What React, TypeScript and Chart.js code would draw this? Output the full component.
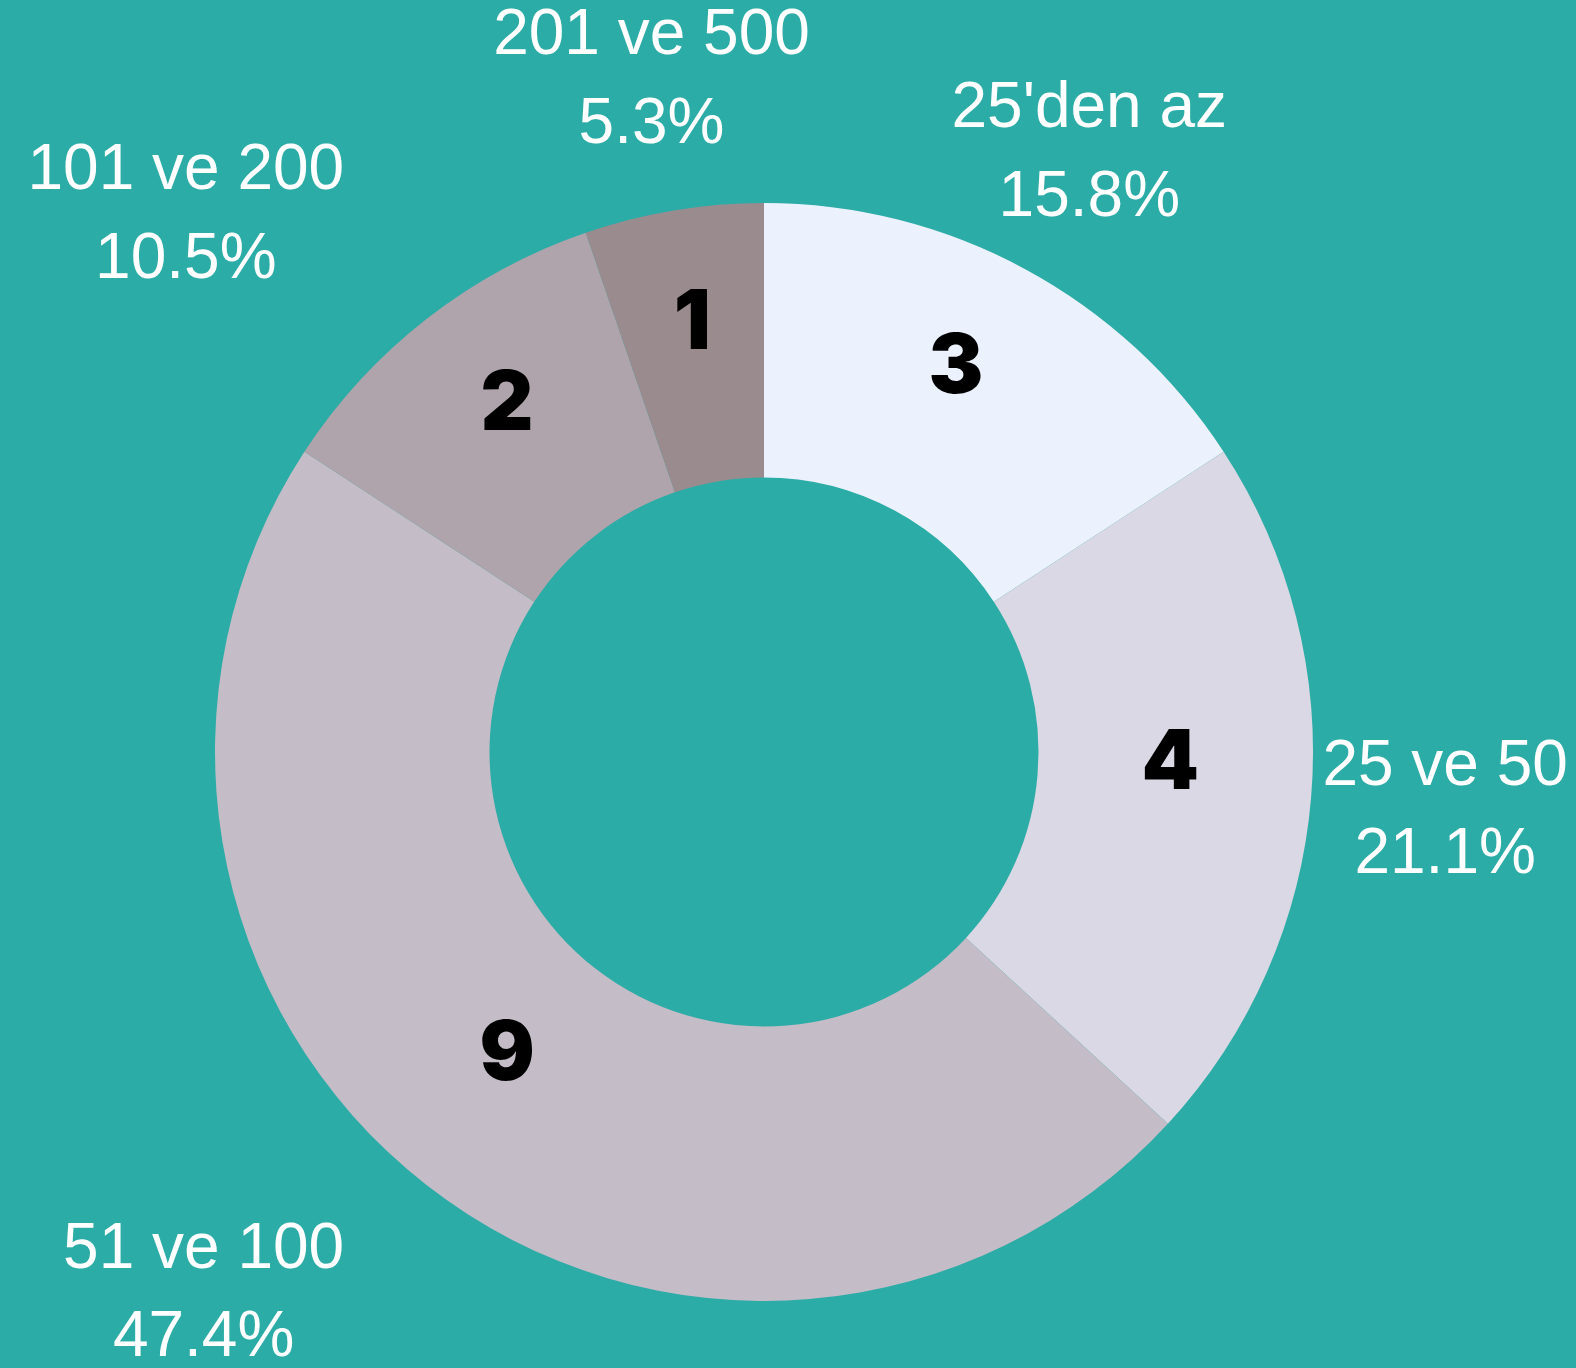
import React, { useEffect, useRef } from "react";
import { Chart, registerables } from "chart.js";

Chart.register(...registerables);

const categories = ["25'den az", "25 ve 50", "51 ve 100", "101 ve 200", "201 ve 500"];
const counts = [3, 4, 9, 2, 1];
const sliceColors = ["#ECF2FD", "#D9D8E4", "#C4BCC7", "#AFA4AB", "#9A8B8F"];
const BG = "#2CACA6";

const W = 1576;
const H = 1368;

const labelPlugin = {
  id: "sliceLabels",
  afterDatasetsDraw(chart: any) {
    const ctx = chart.ctx as CanvasRenderingContext2D;
    const meta = chart.getDatasetMeta(0);
    const data = chart.data.datasets[0].data as number[];
    const total = data.reduce((a, b) => a + b, 0);
    meta.data.forEach((arc: any, i: number) => {
      const p = arc.getProps(["x", "y", "startAngle", "endAngle", "outerRadius", "innerRadius"], true);
      const mid = (p.startAngle + p.endAngle) / 2;
      const c = Math.cos(mid);
      const s = Math.sin(mid);
      // inner count label
      const rIn = p.outerRadius * 0.75;
      const nx = p.x + c * rIn - 4;
      const ny = p.y + s * rIn - 27;
      ctx.save();
      ctx.font = "900 82px Inter, Lato, 'DejaVu Sans', sans-serif";
      ctx.fillStyle = "#000000";
      ctx.textAlign = "center";
      ctx.textBaseline = "alphabetic";
      ctx.fillText(String(data[i]), nx, ny + 30);
      ctx.restore();

      // outer category label
      const rOut = p.outerRadius * 1.245;
      const ax = p.x + c * rOut;
      const ay = p.y + s * rOut;
      const pct = ((data[i] / total) * 100).toFixed(1) + "%";
      const lines = [chart.data.labels[i] as string, pct];
      ctx.save();
      ctx.font = "64px 'Liberation Sans', Arial, sans-serif";
      ctx.fillStyle = "#FFFFFF";
      ctx.textAlign = "center";
      ctx.textBaseline = "middle";
      const widths = lines.map((l) => ctx.measureText(l).width);
      const bw = Math.max(...widths);
      let cx = ax;
      if (c < -0.3) cx = ax - bw / 2;
      cx = Math.min(Math.max(cx, bw / 2 + 4), W - bw / 2 - 4);
      const lh = 88.5;
      lines.forEach((l, k) => {
        ctx.fillText(l, cx, ay + (k - 0.5) * lh + 3);
      });
      ctx.restore();
    });
  },
};

export default function App() {
  const ref = useRef<HTMLCanvasElement | null>(null);
  useEffect(() => {
    if (!ref.current) return;
    const chart = new Chart(ref.current, {
      type: "doughnut",
      data: {
        labels: categories,
        datasets: [
          {
            data: counts,
            backgroundColor: sliceColors,
            borderWidth: 0,
            hoverOffset: 0,
            offset: 0,
          },
        ],
      },
      options: {
        responsive: false,
        animation: false,
        cutout: "50%",
        layout: { padding: { left: 215, top: 203, right: 263, bottom: 67 } },
        plugins: {
          legend: { display: false },
          tooltip: { enabled: false },
        },
      },
      plugins: [labelPlugin],
    });
    return () => chart.destroy();
  }, []);
  return (
    <div style={{ position: "absolute", left: 0, top: 0, width: W, height: H, background: BG, overflow: "hidden" }}>
      <canvas ref={ref} width={W} height={H} style={{ width: W, height: H, display: "block" }} />
    </div>
  );
}
